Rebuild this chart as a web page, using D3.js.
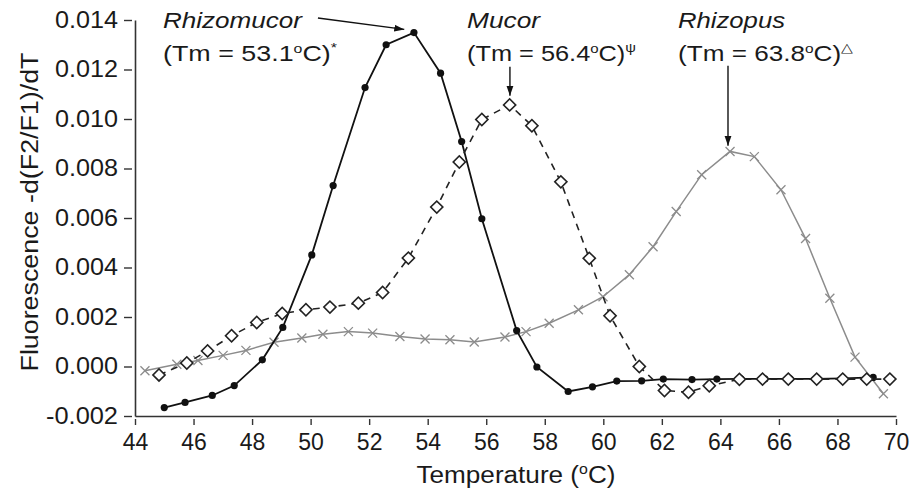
<!DOCTYPE html>
<html><head><meta charset="utf-8">
<script src="https://cdn.jsdelivr.net/npm/d3@7"></script>
<style>body{margin:0;background:#fff} svg{display:block} text{font-family:"Liberation Sans",Arial,sans-serif;fill:#1a1a1a}</style>
</head><body><svg id="c" width="916" height="490"></svg>
<script>
// ---- data ----
const rhizomucorT = [45.0,45.71,46.64,47.39,48.35,49.05,50.04,50.77,51.86,52.58,53.53,54.44,55.16,55.85,57.04,57.73,58.80,59.63,60.46,61.31,62.05,63.03,63.88,64.70,65.52,66.38,67.27,68.19,69.22];
const rhizomucorV = [-0.00166,-0.00145,-0.00117,-0.00077,0.00027,0.00158,0.00451,0.00731,0.01127,0.01300,0.01349,0.01185,0.00909,0.00597,0.00145,-0.00002,-0.00101,-0.00082,-0.00059,-0.00058,-0.00051,-0.00053,-0.00051,-0.0005,-0.0005,-0.0005,-0.0005,-0.00048,-0.00044];
const mucorT = [44.82,45.77,46.48,47.30,48.16,49.03,49.84,50.66,51.63,52.46,53.34,54.31,55.08,55.85,56.80,57.56,58.55,59.52,60.23,61.23,62.09,62.91,63.62,64.65,65.44,66.32,67.29,68.18,69.00,69.79];
const mucorV = [-0.00034,0.00014,0.00063,0.00124,0.00178,0.00214,0.00229,0.00240,0.00256,0.00299,0.00438,0.00644,0.00826,0.00998,0.01057,0.00973,0.00746,0.00437,0.00205,0.00000,-0.00097,-0.00104,-0.00078,-0.00052,-0.00051,-0.00051,-0.00051,-0.00051,-0.00051,-0.00051];
const rhizopusT = [44.34,45.43,46.15,47.01,47.79,48.75,49.70,50.42,51.29,52.12,53.05,53.91,54.76,55.59,56.64,57.36,58.15,59.15,59.99,60.89,61.70,62.49,63.36,64.33,65.16,66.07,66.91,67.74,68.60,69.57];
const rhizopusV = [-0.00017,0.00009,0.00024,0.00045,0.00065,0.00098,0.00115,0.00130,0.00141,0.00135,0.00121,0.00111,0.00108,0.00099,0.00119,0.00141,0.00175,0.00229,0.00282,0.00371,0.00484,0.00626,0.00775,0.00869,0.00848,0.00714,0.00517,0.00276,0.00038,-0.00110];
const xTicks = [44,46,48,50,52,54,56,58,60,62,64,66,68,70];
const yTicks = [-0.002,0.000,0.002,0.004,0.006,0.008,0.010,0.012,0.014];
const xTitle = "Temperature (";
const yTitle = "Fluorescence -d(F2/F1)/dT";
const genusNames = ["Rhizomucor","Mucor","Rhizopus"];
const tmValues = ["53.1","56.4","63.8"];
const tmMarks = ["*","ψ","△"];

// ---- layout ----
const svg = d3.select("#c");
const x = d3.scaleLinear().domain([44,70]).range([135,896]);
const y = d3.scaleLinear().domain([-0.002,0.014]).range([416,20]);
const zip = (a,b) => a.map((t,i)=>[t,b[i]]);
const line = d3.line().x(d=>x(d[0])).y(d=>y(d[1]));
const yFmt = d => d3.format(".3f")(d).replace("\u2212","-");

// axes
const xa = svg.append("g").attr("transform","translate(0,416)")
  .call(d3.axisBottom(x).tickValues(xTicks).tickFormat(d3.format("d")).tickSizeOuter(0).tickSizeInner(9).tickPadding(9));
const ya = svg.append("g").attr("transform","translate(135,0)")
  .call(d3.axisLeft(y).tickValues(yTicks).tickFormat(yFmt).tickSizeOuter(0).tickSizeInner(11).tickPadding(6));
[xa,ya].forEach(g=>{
  g.select(".domain").attr("stroke","#333").attr("stroke-width",1.6);
  g.selectAll(".tick line").attr("stroke","#333").attr("stroke-width",1.4);
  g.selectAll(".tick text").attr("font-size",23).attr("fill","#1a1a1a")
    .style("font-family","'Liberation Sans',Arial,sans-serif");
});
xa.selectAll(".tick line").attr("y1",3).attr("y2",9);
ya.selectAll(".tick line").attr("x1",-3).attr("x2",-11);
ya.selectAll(".tick text").attr("textLength",d=>d<0?72:63).attr("lengthAdjust","spacingAndGlyphs");

// axis titles
const xt = svg.append("text").attr("x",516).attr("y",483).attr("text-anchor","middle").attr("font-size",23)
  .attr("textLength",199).attr("lengthAdjust","spacingAndGlyphs");
xt.append("tspan").text(xTitle);
xt.append("tspan").attr("font-size",14).attr("dy",-9).text("o");
xt.append("tspan").attr("dy",9).text("C)");
svg.append("text").attr("transform","translate(38,212) rotate(-90)").attr("text-anchor","middle")
  .attr("font-size",23).attr("textLength",319).attr("lengthAdjust","spacingAndGlyphs").text(yTitle);

// series: Rhizopus (grey, x markers)
svg.append("path").datum(zip(rhizopusT,rhizopusV)).attr("d",line)
  .attr("fill","none").attr("stroke","#8c8c8c").attr("stroke-width",1.5);
svg.append("g").selectAll("path").data(zip(rhizopusT,rhizopusV)).join("path")
  .attr("transform",d=>`translate(${x(d[0])},${y(d[1])})`)
  .attr("d","M-4.5,-4.5L4.5,4.5M-4.5,4.5L4.5,-4.5").attr("stroke","#8c8c8c").attr("stroke-width",1.3).attr("fill","none");

// Rhizomucor (black, filled circles)
svg.append("path").datum(zip(rhizomucorT,rhizomucorV)).attr("d",line)
  .attr("fill","none").attr("stroke","#111").attr("stroke-width",1.8);
svg.append("g").selectAll("circle").data(zip(rhizomucorT,rhizomucorV)).join("circle")
  .attr("cx",d=>x(d[0])).attr("cy",d=>y(d[1])).attr("r",3.6).attr("fill","#111");

// Mucor (dashed, open diamonds)
svg.append("path").datum(zip(mucorT,mucorV)).attr("d",line)
  .attr("fill","none").attr("stroke","#222").attr("stroke-width",1.6).attr("stroke-dasharray","7,6");
svg.append("g").selectAll("rect").data(zip(mucorT,mucorV)).join("rect")
  .attr("x",-4.3).attr("y",-4.3).attr("width",8.6).attr("height",8.6)
  .attr("transform",d=>`translate(${x(d[0])},${y(d[1])}) rotate(45)`)
  .attr("fill","#fff").attr("stroke","#222").attr("stroke-width",1.6);

// arrows
const defs = svg.append("defs");
defs.append("marker").attr("id","ah").attr("viewBox","0 0 10 10").attr("refX",10).attr("refY",5)
  .attr("markerWidth",10).attr("markerHeight",10).attr("markerUnits","userSpaceOnUse").attr("orient","auto")
  .append("path").attr("d","M0,1.5L10,5L0,8.5Z").attr("fill","#111");
const arrows = [[[50.25,0.01408],[53.2,0.01362]],[[56.81,0.01211],[56.81,0.01094]],[[64.26,0.01215],[64.26,0.00892]]];
arrows.forEach(a=>svg.append("line").attr("x1",x(a[0][0])).attr("y1",y(a[0][1])).attr("x2",x(a[1][0])).attr("y2",y(a[1][1]))
  .attr("stroke","#111").attr("stroke-width",1.4).attr("marker-end","url(#ah)"));

// annotations
const ann = [{x:163,w1:139,w2:174},{x:467,w1:73,w2:169},{x:678,w1:107,w2:175}];
ann.forEach((a,i)=>{
  svg.append("text").attr("x",a.x).attr("y",28).attr("font-size",22).attr("font-style","italic")
    .attr("textLength",a.w1).attr("lengthAdjust","spacingAndGlyphs").text(genusNames[i]);
  const t = svg.append("text").attr("x",a.x).attr("y",61).attr("font-size",22)
    .attr("textLength",a.w2).attr("lengthAdjust","spacingAndGlyphs");
  t.append("tspan").text("(Tm = "+tmValues[i]);
  t.append("tspan").attr("font-size",13).attr("dy",-8).text("o");
  t.append("tspan").attr("dy",8).text("C)");
  t.append("tspan").attr("font-size",13).attr("dy",-9).text(tmMarks[i]);
});
</script></body></html>
